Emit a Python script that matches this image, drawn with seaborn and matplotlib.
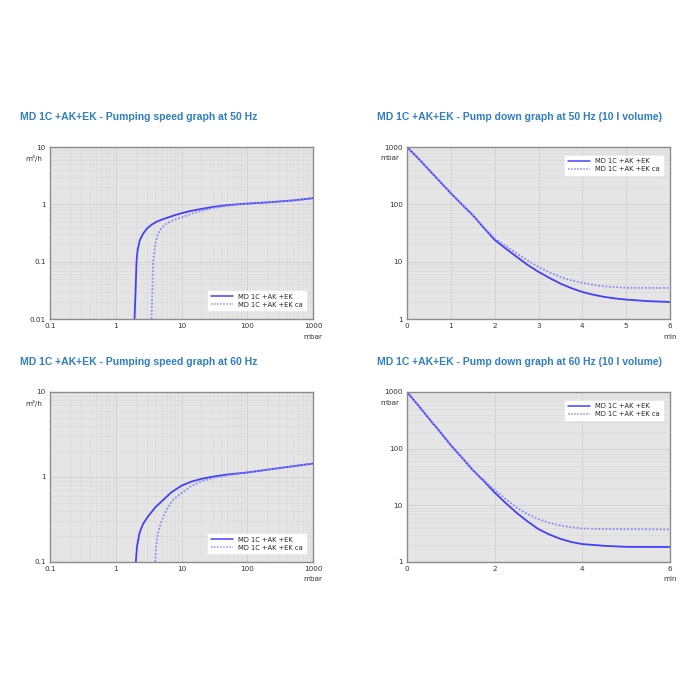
import pandas as pd
import matplotlib
matplotlib.use("Agg")
import matplotlib.pyplot as plt
import matplotlib.ticker as mticker
import seaborn as sns

# --- DATA ---
LABEL_A = "MD 1C +AK +EK"
LABEL_B = "MD 1C +AK +EK ca"

# pumping speed, 50 Hz: pressure (mbar) -> speed (m3/h)
ps50_p_a = [1.93, 2.0, 2.07, 2.15, 2.33, 2.62, 3.0, 3.5, 4.2, 5.0, 6.0, 8.0, 10, 14, 20, 30, 50, 70, 100, 200, 500, 1000]
ps50_s_a = [0.01, 0.03, 0.1, 0.16, 0.24, 0.31, 0.38, 0.44, 0.50, 0.54, 0.58, 0.65, 0.70, 0.77, 0.83, 0.90, 0.97, 1.0, 1.03, 1.08, 1.17, 1.28]
ps50_p_b = [3.5, 3.6, 3.7, 4.0, 4.4, 5.0, 5.9, 7.5, 10, 14, 20, 30, 50, 70, 100, 200, 500, 1000]
ps50_s_b = [0.01, 0.03, 0.1, 0.2, 0.31, 0.39, 0.46, 0.53, 0.59, 0.68, 0.77, 0.86, 0.94, 0.99, 1.03, 1.08, 1.17, 1.28]

# pumping speed, 60 Hz
ps60_p_a = [2.02, 2.1, 2.3, 2.6, 3.1, 4.0, 5.3, 7.0, 10, 14, 20, 30, 50, 100, 300, 1000]
ps60_s_a = [0.1, 0.15, 0.22, 0.28, 0.344, 0.44, 0.54, 0.66, 0.79, 0.88, 0.95, 1.01, 1.07, 1.13, 1.27, 1.44]
ps60_p_b = [3.98, 4.1, 4.4, 4.8, 5.3, 6.2, 7.5, 10, 14, 20, 30, 50, 100, 300, 1000]
ps60_s_b = [0.1, 0.15, 0.22, 0.28, 0.344, 0.44, 0.54, 0.65, 0.78, 0.89, 0.97, 1.04, 1.13, 1.27, 1.44]

# pump down, 50 Hz: time (min) -> pressure (mbar)
pd50_t_a = [0, 0.25, 0.5, 0.75, 1, 1.25, 1.5, 1.75, 2, 2.25, 2.5, 2.75, 3, 3.25, 3.5, 3.75, 4, 4.25, 4.5, 4.75, 5, 5.5, 6]
pd50_p_a = [1000, 640, 400, 250, 156, 100, 65, 39, 24, 17, 12.2, 8.8, 6.65, 5.2, 4.15, 3.45, 2.96, 2.65, 2.43, 2.28, 2.18, 2.05, 1.98]
pd50_t_b = [0, 0.25, 0.5, 0.75, 1, 1.25, 1.5, 1.75, 2, 2.25, 2.5, 2.75, 3, 3.25, 3.5, 3.75, 4, 4.25, 4.5, 4.75, 5, 5.5, 6]
pd50_p_b = [1000, 640, 400, 250, 156, 100, 65, 40, 25.5, 19, 13.9, 10.5, 8.1, 6.5, 5.4, 4.7, 4.27, 3.95, 3.72, 3.6, 3.5, 3.48, 3.48]

# pump down, 60 Hz
pd60_t_a = [0, 0.25, 0.5, 0.75, 1, 1.25, 1.5, 1.75, 2, 2.25, 2.5, 2.75, 3, 3.25, 3.5, 3.75, 4, 4.5, 5, 6]
pd60_p_a = [1000, 590, 340, 200, 115, 70, 42, 27, 16.8, 11, 7.4, 5.2, 3.8, 3.05, 2.56, 2.25, 2.07, 1.93, 1.85, 1.84]
pd60_t_b = [0, 0.25, 0.5, 0.75, 1, 1.25, 1.5, 1.75, 2, 2.25, 2.5, 2.75, 3, 3.25, 3.5, 3.75, 4, 4.5, 5, 6]
pd60_p_b = [1000, 590, 340, 200, 115, 70, 42, 28, 18.7, 13, 9.1, 7.0, 5.7, 4.9, 4.4, 4.1, 3.9, 3.82, 3.8, 3.75]

TITLES = [
    "MD 1C +AK+EK - Pumping speed graph at 50 Hz",
    "MD 1C +AK+EK - Pump down graph at 50 Hz (10 l volume)",
    "MD 1C +AK+EK - Pumping speed graph at 60 Hz",
    "MD 1C +AK+EK - Pump down graph at 60 Hz (10 l volume)",
]

# --- STYLE ---
sns.set_theme(style="white")
plt.rcParams['font.family'] = ['DejaVu Sans']
TITLE_COLOR = '#2f7fc1'
COL_A = '#4242f4'
COL_B = '#8a8af8'
BG = '#e5e5e5'
GRID_MAJ = '#d0d0d0'
GRID_MIN = '#dadada'
TICK_FS = 5.2

fig = plt.figure(figsize=(7, 7), dpi=100)


def px_axes(left, top, right, bottom):
    return fig.add_axes([left / 700, 1 - bottom / 700, (right - left) / 700, (bottom - top) / 700])


def style_axes(ax):
    ax.set_facecolor(BG)
    for s in ax.spines.values():
        s.set_color('#8c8c8c')
        s.set_linewidth(1.0)
    ax.tick_params(which='both', length=0, labelsize=TICK_FS, colors='#333333', pad=3)
    ax.grid(True, which='major', color=GRID_MAJ, linewidth=0.6)
    ax.grid(True, which='minor', color=GRID_MIN, linewidth=0.5)
    ax.set_axisbelow(True)
    ax.set_xlabel('')
    ax.set_ylabel('')


def draw(ax, xa, ya, xb, yb, loc, anchor):
    df = pd.concat([
        pd.DataFrame({'x': xa, 'y': ya, 'k': LABEL_A}),
        pd.DataFrame({'x': xb, 'y': yb, 'k': LABEL_B}),
    ])
    sns.lineplot(data=df, x='x', y='y', hue='k', style='k',
                 palette={LABEL_A: COL_A, LABEL_B: COL_B},
                 dashes={LABEL_A: '', LABEL_B: (1, 1)},
                 linewidth=1.3, ax=ax, sort=False)
    ax.set_yscale('log')
    leg = ax.legend(loc=loc, bbox_to_anchor=anchor, fontsize=4.9, frameon=True,
                    fancybox=False, framealpha=1, edgecolor='white',
                    handlelength=3.2, borderpad=0.4, labelspacing=0.3)
    for line in leg.get_lines():
        line.set_linewidth(1.1)
    style_axes(ax)


def log_fmt(v, _):
    return f"{v:g}"


# pumping speed charts
for top, bottom, xa, ya, xb, yb, ylim, title, ty in [
    (147, 319, ps50_p_a, ps50_s_a, ps50_p_b, ps50_s_b, (0.01, 10), TITLES[0], 117),
    (392, 562, ps60_p_a, ps60_s_a, ps60_p_b, ps60_s_b, (0.1, 10), TITLES[2], 362),
]:
    ax = px_axes(50, top, 313, bottom)
    draw(ax, xa, ya, xb, yb, 'lower right', (0.985, 0.03))
    ax.set_xscale('log')
    ax.set_xlim(0.1, 1000)
    ax.set_ylim(*ylim)
    ax.xaxis.set_major_locator(mticker.LogLocator(base=10))
    ax.xaxis.set_minor_locator(mticker.LogLocator(base=10, subs=range(2, 10)))
    ax.yaxis.set_minor_locator(mticker.LogLocator(base=10, subs=range(2, 10)))
    ax.xaxis.set_major_formatter(mticker.FuncFormatter(log_fmt))
    ax.yaxis.set_major_formatter(mticker.FuncFormatter(log_fmt))
    ax.xaxis.set_minor_formatter(mticker.NullFormatter())
    ax.yaxis.set_minor_formatter(mticker.NullFormatter())
    ax.text(-0.03, 0.955, "m³/h", transform=ax.transAxes, ha='right', va='top',
            fontsize=TICK_FS, color='#333333')
    ax.text(1.0, -0.085, "mbar", transform=ax.transAxes, ha='center', va='top',
            fontsize=TICK_FS, color='#333333')
    fig.text(20 / 700, 1 - ty / 700, title, fontsize=7.5, fontweight='bold',
             color=TITLE_COLOR, family='Liberation Sans', va='center')

# pump down charts
for top, bottom, xa, ya, xb, yb, step, title, ty in [
    (147, 319, pd50_t_a, pd50_p_a, pd50_t_b, pd50_p_b, 1, TITLES[1], 117),
    (392, 562, pd60_t_a, pd60_p_a, pd60_t_b, pd60_p_b, 2, TITLES[3], 362),
]:
    ax = px_axes(407, top, 670, bottom)
    draw(ax, xa, ya, xb, yb, 'upper right', (0.985, 0.97))
    ax.set_xlim(0, 6)
    ax.set_ylim(1, 1000)
    ax.xaxis.set_major_locator(mticker.MultipleLocator(step))
    ax.yaxis.set_major_locator(mticker.LogLocator(base=10))
    ax.yaxis.set_minor_locator(mticker.LogLocator(base=10, subs=range(2, 10)))
    ax.yaxis.set_major_formatter(mticker.FuncFormatter(log_fmt))
    ax.yaxis.set_minor_formatter(mticker.NullFormatter())
    ax.grid(False, axis='x', which='minor')
    ax.text(-0.03, 0.955, "mbar", transform=ax.transAxes, ha='right', va='top',
            fontsize=TICK_FS, color='#333333')
    ax.text(1.0, -0.085, "min", transform=ax.transAxes, ha='center', va='top',
            fontsize=TICK_FS, color='#333333')
    fig.text(377 / 700, 1 - ty / 700, title, fontsize=7.5, fontweight='bold',
             color=TITLE_COLOR, family='Liberation Sans', va='center')

fig.savefig('out.png', dpi=100, facecolor='white')
